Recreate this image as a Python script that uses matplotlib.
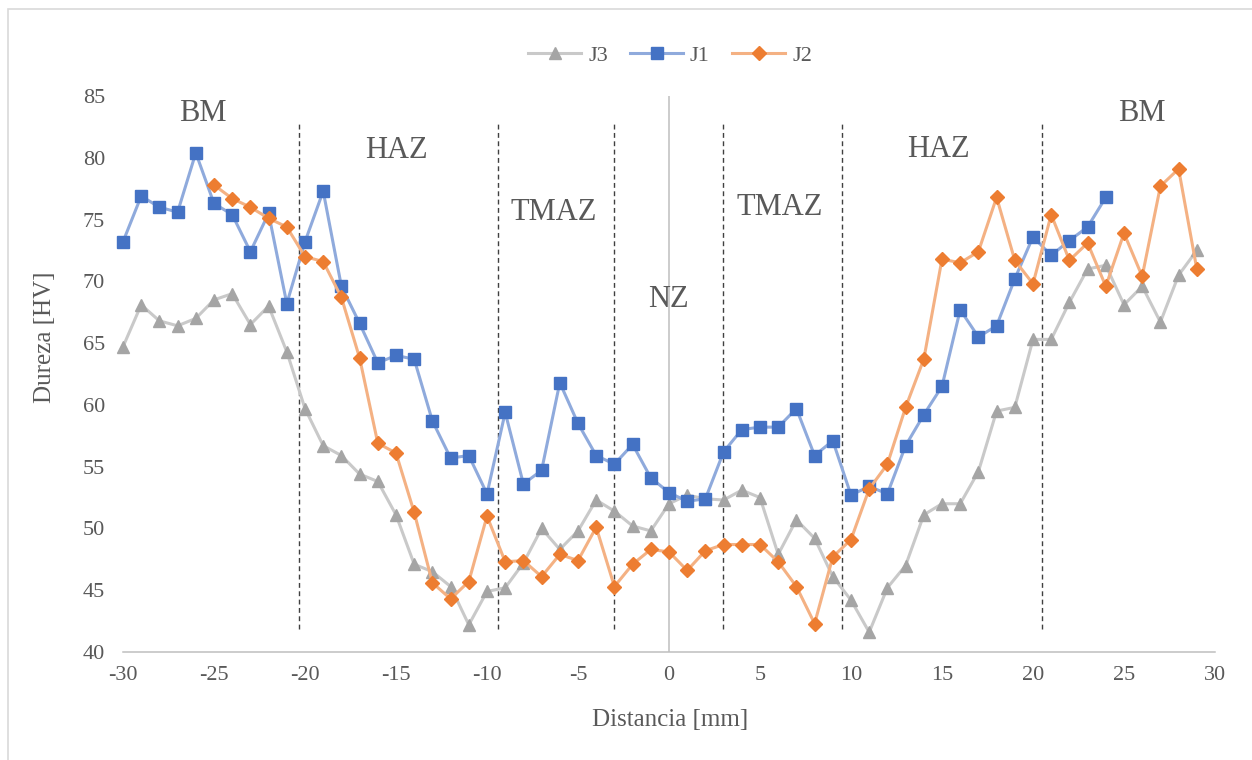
import matplotlib
matplotlib.use("Agg")
import matplotlib.pyplot as plt
from matplotlib.patches import Rectangle

# ---------------- data ----------------
x_j1 = list(range(-30, 25))
j1 = [73.2, 76.9, 76.0, 75.6, 80.4, 76.3, 75.4, 72.4, 75.5, 68.2,
      73.2, 77.3, 69.6, 66.6, 63.4, 64.0, 63.7, 58.7, 55.7, 55.9,
      52.8, 59.4, 53.6, 54.7, 61.8, 58.5, 55.9, 55.2, 56.8, 54.1,
      52.9, 52.2, 52.4, 56.2, 58.0, 58.2, 58.2, 59.7, 55.9, 57.1,
      52.7, 53.4, 52.8, 56.7, 59.2, 61.5, 67.7, 65.5, 66.4, 70.2,
      73.6, 72.1, 73.3, 74.4, 76.8]

x_j2 = list(range(-25, 30))
j2 = [77.8, 76.7, 76.0, 75.1, 74.4, 72.0, 71.6, 68.7, 63.8, 56.9,
      56.1, 51.3, 45.6, 44.3, 45.7, 51.0, 47.3, 47.4, 46.1, 47.9,
      47.4, 50.1, 45.3, 47.1, 48.3, 48.1, 46.6, 48.2, 48.7, 48.7,
      48.7, 47.3, 45.3, 42.3, 47.7, 49.1, 53.2, 55.2, 59.8, 63.7,
      71.8, 71.5, 72.4, 76.8, 71.7, 69.8, 75.4, 71.7, 73.1, 69.6,
      73.9, 70.4, 77.7, 79.1, 71.0]

x_j3 = list(range(-30, 30))
j3 = [64.7, 68.1, 66.8, 66.4, 67.0, 68.5, 69.0, 66.5, 68.0, 64.3,
      59.7, 56.7, 55.9, 54.4, 53.8, 51.1, 47.1, 46.5, 45.3, 42.2,
      44.9, 45.2, 47.2, 50.0, 48.3, 49.8, 52.3, 51.4, 50.2, 49.8,
      52.0, 52.7, 52.4, 52.3, 53.1, 52.5, 47.9, 50.7, 49.2, 46.1,
      44.2, 41.6, 45.2, 47.0, 51.1, 52.0, 52.0, 54.6, 59.5, 59.8,
      65.3, 65.3, 68.3, 71.0, 71.3, 68.1, 69.6, 66.7, 70.5, 72.5]

zone_bounds = [-20.35, -9.4, -3.02, 2.95, 9.49, 20.5]
zone_labels = ["BM", "HAZ", "TMAZ", "NZ", "TMAZ", "HAZ", "BM"]
zone_label_x = [-25.6, -14.95, -6.35, -0.02, 6.1, 14.83, 26.0]
zone_label_y = [83.0, 80.0, 75.0, 67.9, 75.4, 80.1, 82.96]

x_ticks = list(range(-30, 31, 5))
y_ticks = list(range(40, 86, 5))

# ---------------- style ----------------
TXT = "#595959"
plt.rcParams["font.family"] = ["Liberation Serif", "DejaVu Serif"]

W, H = 1252, 760
fig = plt.figure(figsize=(W / 100, H / 100), dpi=100)
fig.patch.set_facecolor("white")

L, R, T, B = 123, 1215, 96, 652
ax = fig.add_axes([L / W, 1 - B / H, (R - L) / W, (B - T) / H])
ax.set_xlim(-30, 30)
ax.set_ylim(40, 85)
ax.set_xticks(x_ticks)
ax.set_yticks(y_ticks)
ax.set_xticklabels([str(v) for v in x_ticks])
ax.set_yticklabels([str(v) for v in y_ticks])
for s in ["top", "right", "left"]:
    ax.spines[s].set_visible(False)
ax.spines["bottom"].set_color("#BFBFBF")
ax.spines["bottom"].set_linewidth(1.1)
ax.tick_params(axis="both", length=0, labelsize=16, colors=TXT)
ax.tick_params(axis="x", pad=10)
ax.tick_params(axis="y", pad=13)

# zone separators
ax.axvline(0, color="#BFBFBF", lw=1.1, zorder=1)
for xb in zone_bounds:
    ax.plot([xb, xb], [41.9, 82.9], color="#404040", lw=1.0,
            linestyle=(0, (3.5, 2.5)), zorder=1)

# series
l3, = ax.plot(x_j3, j3, color="#C9C9C9", lw=2.2, marker="^", ms=9,
              mfc="#A5A5A5", mec="#A5A5A5", zorder=3, label="J3",
              clip_on=False)
l1, = ax.plot(x_j1, j1, color="#8FAADC", lw=2.2, marker="s", ms=8.6,
              mfc="#4472C4", mec="#4472C4", zorder=4, label="J1",
              clip_on=False)
l2, = ax.plot(x_j2, j2, color="#F4B183", lw=2.2, marker="D", ms=6.8,
              mfc="#ED7D31", mec="#ED7D31", zorder=5, label="J2",
              clip_on=False)

for lab, xx, yy in zip(zone_labels, zone_label_x, zone_label_y):
    ax.text(xx, yy, lab, fontsize=22, color=TXT, ha="center", va="baseline",
            zorder=6)

fig.text(45 / W, 1 - 337 / H, "Dureza [HV]", rotation=90, fontsize=18,
         color=TXT, ha="center", va="center")
fig.text(670 / W, 1 - 726 / H, "Distancia [mm]", fontsize=18,
         color=TXT, ha="center", va="baseline")

leg = fig.legend(handles=[l3, l1, l2], labels=["J3", "J1", "J2"],
                 loc="center", bbox_to_anchor=(670 / W, 1 - 56 / H),
                 ncol=3, frameon=False, fontsize=16, handlelength=2.4,
                 handletextpad=0.3, columnspacing=1.0)
for t in leg.get_texts():
    t.set_color(TXT)

# outer chart border
fig.add_artist(Rectangle((8 / W, -0.1), 1.2, 1 - 9 / H + 0.1,
                         transform=fig.transFigure, fill=False,
                         edgecolor="#D9D9D9", lw=1.2, clip_on=False))

fig.savefig("out.png", dpi=100, facecolor="white")
